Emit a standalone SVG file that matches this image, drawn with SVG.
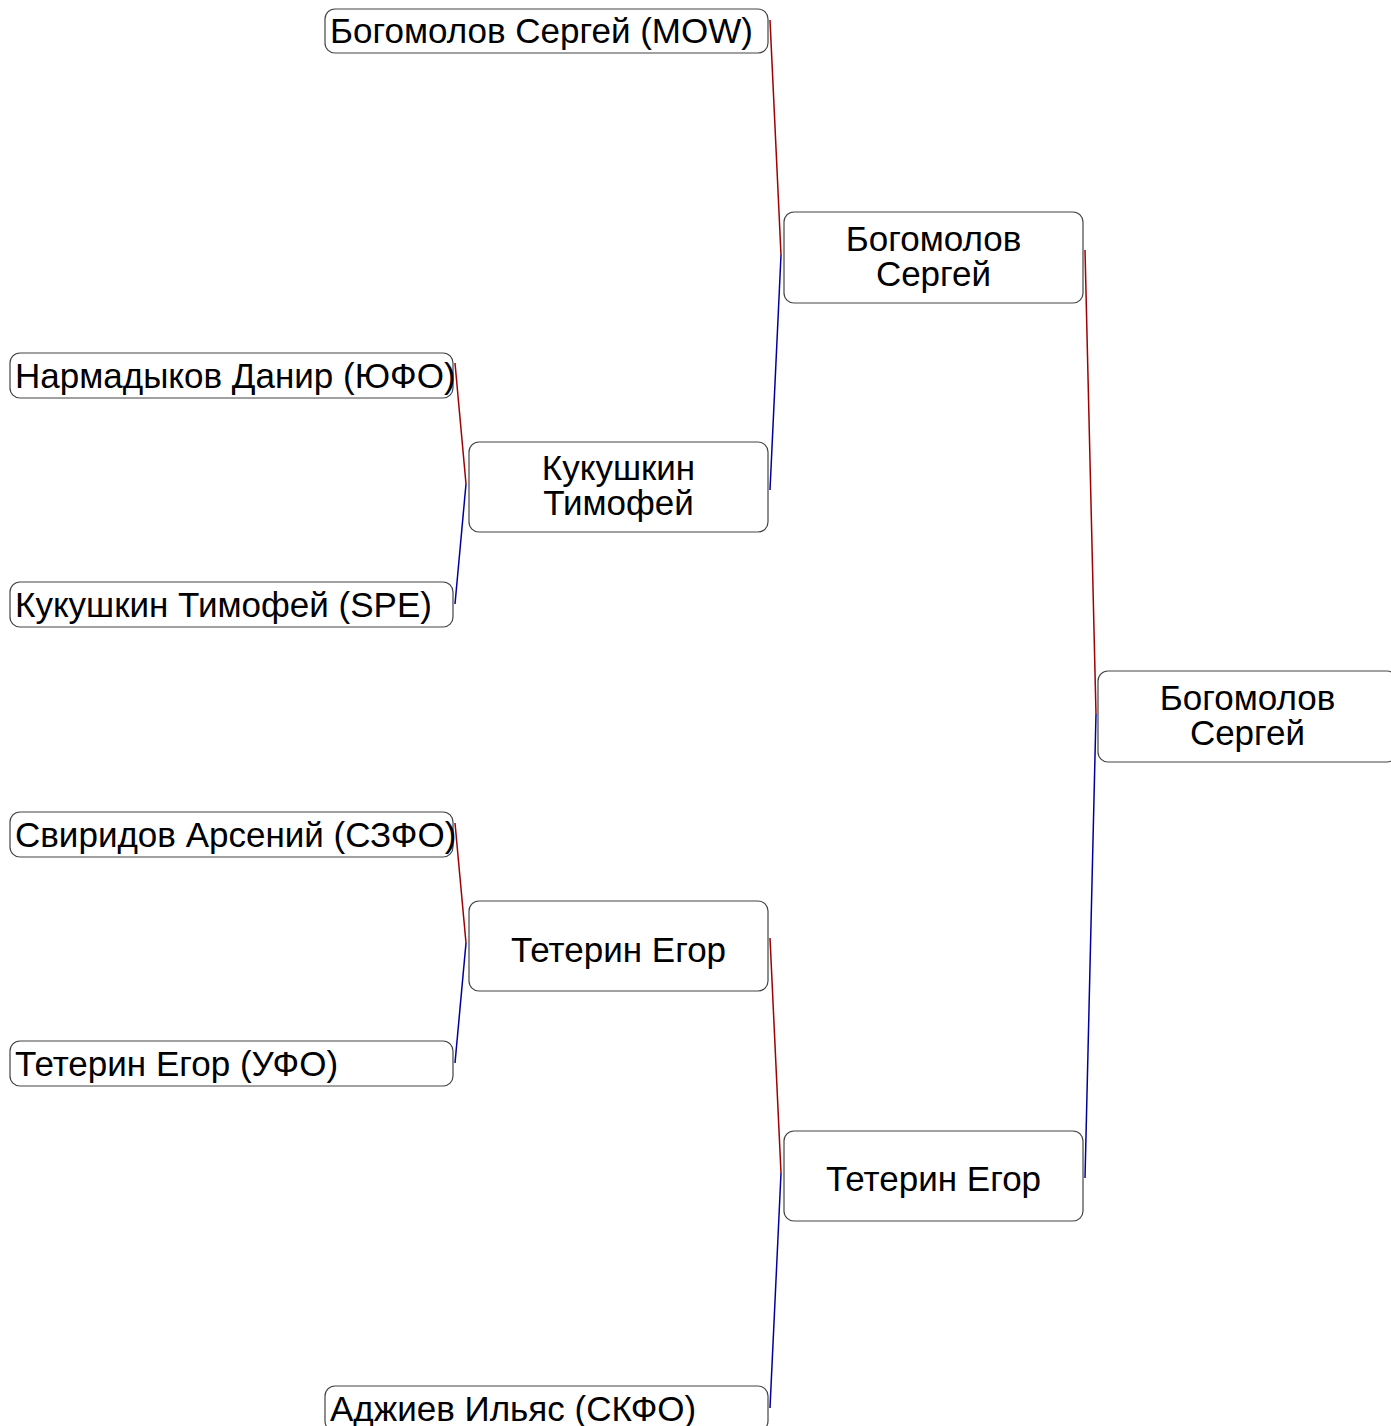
<svg xmlns="http://www.w3.org/2000/svg" width="1391" height="1426" viewBox="0 0 1391 1426">
<style>
.box{fill:#fff;stroke:#444;stroke-width:1.2}
.t{font-family:"Liberation Sans",Arial,sans-serif;font-size:35px;fill:#000}
.c{text-anchor:middle}
.win{stroke:#a00000;stroke-width:1.5;fill:none}
.los{stroke:#0000a0;stroke-width:1.5;fill:none}
</style>
<rect width="1391" height="1426" fill="#fff"/>
<g id="connectors">
<line class="win" x1="455" y1="363" x2="466" y2="484"/>
<line class="los" x1="466" y1="484" x2="455" y2="604"/>
<line class="win" x1="455" y1="823" x2="466" y2="943"/>
<line class="los" x1="466" y1="943" x2="455" y2="1063"/>
<line class="win" x1="770" y1="20" x2="781" y2="255"/>
<line class="los" x1="781" y1="255" x2="770" y2="490"/>
<line class="win" x1="770" y1="938" x2="781" y2="1173"/>
<line class="los" x1="781" y1="1173" x2="770" y2="1408"/>
<line class="win" x1="1085" y1="250" x2="1096" y2="714"/>
<line class="los" x1="1096" y1="714" x2="1085" y2="1178"/>
</g>
<g id="n-mow">
<rect class="box" x="325" y="9" width="443" height="44" rx="10"/>
<text class="t" x="330" y="43">Богомолов Сергей (MOW)</text>
</g>
<g id="n-nar">
<rect class="box" x="10" y="353" width="443" height="45" rx="10"/>
<text class="t" x="15" y="388">Нармадыков Данир (ЮФО)</text>
</g>
<g id="n-kuk">
<rect class="box" x="10" y="582" width="443" height="45" rx="10"/>
<text class="t" x="15" y="617">Кукушкин Тимофей (SPE)</text>
</g>
<g id="n-svi">
<rect class="box" x="10" y="812" width="443" height="45" rx="10"/>
<text class="t" x="15" y="847">Свиридов Арсений (СЗФО)</text>
</g>
<g id="n-tet">
<rect class="box" x="10" y="1041" width="443" height="45" rx="10"/>
<text class="t" x="15" y="1076">Тетерин Егор (УФО)</text>
</g>
<g id="n-adz">
<rect class="box" x="325" y="1386" width="443" height="45" rx="10"/>
<text class="t" x="330" y="1421">Аджиев Ильяс (СКФО)</text>
</g>
<g id="r1-kuk">
<rect class="box" x="469" y="442" width="299" height="90" rx="10"/>
<text class="t c" x="618.5" y="479.5">Кукушкин</text>
<text class="t c" x="618.5" y="514.5">Тимофей</text>
</g>
<g id="r1-tet">
<rect class="box" x="469" y="901" width="299" height="90" rx="10"/>
<text class="t c" x="618.5" y="961.5">Тетерин Егор</text>
</g>
<g id="r2-bog">
<rect class="box" x="784" y="212" width="299" height="91" rx="10"/>
<text class="t c" x="933.5" y="250.5">Богомолов</text>
<text class="t c" x="933.5" y="285.5">Сергей</text>
</g>
<g id="r2-tet">
<rect class="box" x="784" y="1131" width="299" height="90" rx="10"/>
<text class="t c" x="933.5" y="1190.5">Тетерин Егор</text>
</g>
<g id="final">
<rect class="box" x="1098" y="671" width="299" height="91" rx="10"/>
<text class="t c" x="1247.5" y="709.5">Богомолов</text>
<text class="t c" x="1247.5" y="744.5">Сергей</text>
</g>
</svg>
